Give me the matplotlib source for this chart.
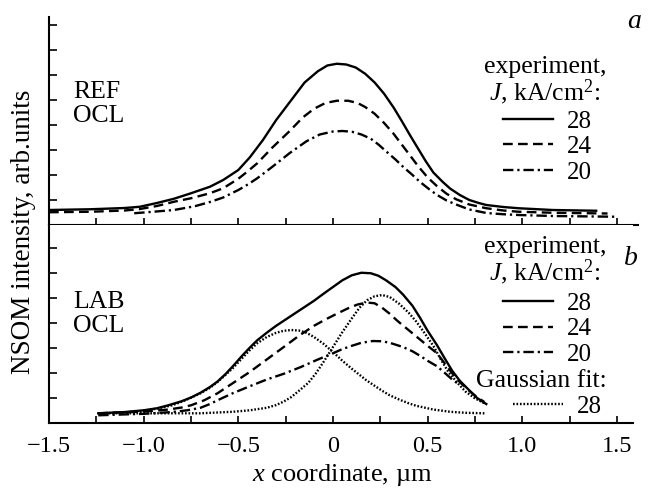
import numpy as np
import matplotlib
matplotlib.use("Agg")
import matplotlib.pyplot as plt
from matplotlib.ticker import MultipleLocator, FixedLocator, FixedFormatter

# ---- data (x in um, intensity in tick units) ----
# panel a: REF OCL, experiment
a28_x = [-1.5, -1.28, -1.1, -1.02, -0.93, -0.84, -0.75, -0.65, -0.58, -0.5, -0.44, -0.37, -0.3,
         -0.22, -0.15, -0.08, -0.03, 0.02, 0.07, 0.12, 0.17, 0.22, 0.27, 0.32, 0.36, 0.41,
         0.45, 0.49, 0.53, 0.58, 0.62, 0.67, 0.72, 0.77, 0.81, 0.9, 0.98, 1.16, 1.39]
a28_y = [0.6, 0.63, 0.68, 0.73, 0.88, 1.05, 1.27, 1.53, 1.8, 2.2, 2.7, 3.4, 4.2,
         5.0, 5.7, 6.15, 6.38, 6.45, 6.42, 6.3, 6.05, 5.7, 5.25, 4.7, 4.2, 3.55,
         3.05, 2.55, 2.1, 1.72, 1.45, 1.2, 1.0, 0.88, 0.8, 0.72, 0.67, 0.6, 0.57]

a24_x = [-1.5, -1.28, -1.1, -1.02, -0.93, -0.84, -0.75, -0.65, -0.58, -0.5, -0.45, -0.4, -0.32,
         -0.23, -0.16, -0.1, -0.04, 0.02, 0.08, 0.13, 0.17, 0.22, 0.27, 0.32, 0.36, 0.41,
         0.45, 0.5, 0.55, 0.6, 0.65, 0.72, 0.81, 0.9, 0.98, 1.16, 1.45]
a24_y = [0.51, 0.53, 0.58, 0.64, 0.76, 0.93, 1.07, 1.27, 1.47, 1.85, 2.15, 2.47, 3.1,
         3.75, 4.3, 4.65, 4.88, 4.97, 4.97, 4.88, 4.72, 4.45, 4.08, 3.65, 3.25, 2.75,
         2.35, 1.9, 1.55, 1.25, 1.03, 0.82, 0.67, 0.58, 0.53, 0.49, 0.46]

a20_x = [-1.05, -0.95, -0.84, -0.73, -0.65, -0.58, -0.5, -0.45, -0.4, -0.32, -0.23, -0.14,
         -0.07, 0.0, 0.05, 0.1, 0.15, 0.2, 0.24, 0.28, 0.33, 0.37, 0.42, 0.46, 0.51, 0.55,
         0.6, 0.65, 0.72, 0.81, 0.9, 0.98, 1.16, 1.5]
a20_y = [0.47, 0.53, 0.6, 0.75, 0.92, 1.1, 1.4, 1.62, 1.87, 2.33, 2.87, 3.35,
         3.62, 3.74, 3.76, 3.73, 3.62, 3.45, 3.22, 2.95, 2.62, 2.33, 2.0, 1.72, 1.42, 1.2,
         0.98, 0.82, 0.62, 0.48, 0.43, 0.4, 0.36, 0.33]

# panel b: LAB OCL, experiment
b28_x = [-1.24, -1.1, -1.0, -0.93, -0.87, -0.8, -0.75, -0.7, -0.65, -0.61, -0.57, -0.53, -0.48,
         -0.44, -0.4, -0.35, -0.3, -0.26, -0.18, -0.1, -0.05, 0.0, 0.05, 0.1, 0.15, 0.2,
         0.24, 0.28, 0.33, 0.37, 0.42, 0.46, 0.5, 0.55, 0.59, 0.63, 0.67, 0.72, 0.76, 0.81]
b28_y = [0.4, 0.45, 0.52, 0.6, 0.72, 0.88, 1.03, 1.22, 1.45, 1.67, 1.95, 2.27, 2.7,
         3.02, 3.32, 3.62, 3.9, 4.1, 4.5, 4.9, 5.18, 5.45, 5.72, 5.92, 6.02, 6.0,
         5.9, 5.72, 5.45, 5.15, 4.7, 4.22, 3.7, 3.12, 2.6, 2.1, 1.7, 1.32, 1.02, 0.77]

b24_x = [-1.24, -1.0, -0.87, -0.8, -0.75, -0.68, -0.61, -0.53, -0.44, -0.35, -0.26, -0.18,
         -0.1, -0.04, 0.02, 0.08, 0.13, 0.18, 0.22, 0.26, 0.3, 0.34, 0.38, 0.42, 0.46, 0.5,
         0.55, 0.59, 0.63, 0.67, 0.72, 0.76, 0.8]
b24_y = [0.4, 0.47, 0.55, 0.63, 0.72, 0.92, 1.2, 1.6, 2.05, 2.55, 3.05, 3.5,
         3.9, 4.15, 4.38, 4.6, 4.75, 4.83, 4.8, 4.62, 4.38, 4.1, 3.85, 3.6, 3.35, 3.1,
         2.8, 2.4, 2.0, 1.65, 1.3, 1.05, 0.85]

b20_x = [-1.24, -1.0, -0.85, -0.77, -0.7, -0.65, -0.61, -0.53, -0.44, -0.35, -0.26, -0.17,
         -0.08, 0.0, 0.05, 0.1, 0.15, 0.21, 0.26, 0.3, 0.37, 0.42, 0.46, 0.5, 0.55, 0.59,
         0.63, 0.67]
b20_y = [0.32, 0.38, 0.45, 0.52, 0.62, 0.77, 0.92, 1.2, 1.48, 1.75, 1.98, 2.25,
         2.55, 2.8, 2.97, 3.1, 3.22, 3.29, 3.28, 3.22, 3.05, 2.88, 2.7, 2.5, 2.28, 2.02,
         1.75, 1.53]

# panel b: two Gaussian components fitted to the 28 kA/cm2 curve
g1_x = [-1.24, -1.1, -1.0, -0.92, -0.85, -0.78, -0.7, -0.65, -0.61, -0.57, -0.53, -0.48,
        -0.44, -0.4, -0.35, -0.3, -0.26, -0.22, -0.18, -0.14, -0.1, -0.05, 0.0, 0.05, 0.1,
        0.175, 0.22, 0.26, 0.3, 0.35, 0.4, 0.44, 0.53, 0.62, 0.7, 0.8]
g1_y = [0.4, 0.43, 0.5, 0.6, 0.72, 0.92, 1.2, 1.42, 1.65, 1.92, 2.2, 2.6,
        2.92, 3.2, 3.45, 3.62, 3.7, 3.73, 3.71, 3.62, 3.45, 3.18, 2.85, 2.5, 2.18,
        1.73, 1.5, 1.3, 1.12, 0.95, 0.8, 0.7, 0.55, 0.46, 0.42, 0.4]

g2_x = [-1.24, -0.7, -0.53, -0.44, -0.35, -0.3, -0.26, -0.22, -0.175, -0.13, -0.09, -0.05,
        0.0, 0.05, 0.1, 0.14, 0.18, 0.22, 0.26, 0.3, 0.35, 0.4, 0.44, 0.48, 0.53, 0.57,
        0.61, 0.66, 0.7, 0.75, 0.8]
g2_y = [0.4, 0.4, 0.46, 0.52, 0.62, 0.73, 0.87, 1.05, 1.33, 1.62, 2.0, 2.45,
        3.05, 3.65, 4.2, 4.62, 4.92, 5.08, 5.13, 5.05, 4.78, 4.42, 4.07, 3.65, 3.1, 2.55,
        2.05, 1.6, 1.27, 1.0, 0.8]

J_labels = ["28", "24", "20"]
x_ticks = [-1.5, -1.0, -0.5, 0.0, 0.5, 1.0, 1.5]
x_ticklabels = ["\u22121.5", "\u22121.0", "\u22120.5", "0", "0.5", "1.0", "1.5"]

plt.rcParams["font.family"] = ["Liberation Serif", "DejaVu Serif"]
plt.rcParams["mathtext.fontset"] = "custom"
plt.rcParams["mathtext.rm"] = "Liberation Serif"
plt.rcParams["mathtext.it"] = "Liberation Serif:italic"
plt.rcParams["lines.scale_dashes"] = False
plt.rcParams["lines.solid_joinstyle"] = "round"
plt.rcParams["lines.dash_joinstyle"] = "round"

W, H = 649, 490


def fx(px):
    return px / W


def fy(py):
    return 1 - py / H


solid = dict(color="black", lw=1.7, ls="-")
dashed = dict(color="black", lw=1.7, ls=(0, (7, 3.8)))
dashdot = dict(color="black", lw=1.7, ls=(0, (7.5, 2.8, 1.6, 2.8)))
dotted = dict(color="black", lw=1.7, ls=(0, (1.2, 1.3)))


def style_axes(ax, ymax, xmax, yticks, labels):
    ax.set_xlim(-1.5, xmax)
    ax.set_ylim(0, ymax)
    for s in ["top", "right"]:
        ax.spines[s].set_visible(False)
    for s in ["left", "bottom"]:
        ax.spines[s].set_linewidth(1.5)
    ax.xaxis.set_major_locator(FixedLocator(x_ticks))
    ax.xaxis.set_minor_locator(MultipleLocator(0.25))
    ax.yaxis.set_major_locator(FixedLocator(yticks))
    ax.set_yticklabels([])
    ax.tick_params(axis="both", which="both", direction="in", width=1.2)
    ax.tick_params(axis="x", which="both", length=5, pad=9.5, labelsize=17.5)
    ax.tick_params(axis="y", which="both", length=6)
    if labels:
        ax.xaxis.set_major_formatter(FixedFormatter(x_ticklabels))
    else:
        ax.set_xticklabels([])


fig = plt.figure(figsize=(W / 100, H / 100), dpi=100)

ax_a = fig.add_axes([fx(49), fy(225), fx(638) - fx(49), fy(17) - fy(225)])
ax_b = fig.add_axes([fx(49), fy(423.3), fx(633) - fx(49), fy(225) - fy(423.3)])

style_axes(ax_a, 8.32, 1.611, list(range(1, 9)), False)
style_axes(ax_b, 7.93, 1.585, list(range(1, 8)), True)

# panel a
la1, = ax_a.plot(a28_x, a28_y, **solid)
la2, = ax_a.plot(a24_x, a24_y, **dashed)
la3, = ax_a.plot(a20_x, a20_y, **dashdot)

# panel b
lb1, = ax_b.plot(b28_x, b28_y, **solid)
lb2, = ax_b.plot(b24_x, b24_y, **dashed)
lb3, = ax_b.plot(b20_x, b20_y, **dashdot)
lg, = ax_b.plot(g1_x, g1_y, **dotted)
ax_b.plot(g2_x, g2_y, **dotted)

leg_kw = dict(frameon=False, fontsize=18, handlelength=2.0, handletextpad=0.55,
              labelspacing=0.13, borderpad=0, borderaxespad=0, loc="upper left",
              bbox_transform=fig.transFigure)

ax_a.legend([la1, la2, la3], J_labels, bbox_to_anchor=(fx(503), fy(110)), **leg_kw)

leg_b = ax_b.legend([lb1, lb2, lb3], J_labels, bbox_to_anchor=(fx(503), fy(292)), **leg_kw)
ax_b.add_artist(leg_b)
ax_b.legend([lg], ["28"], bbox_to_anchor=(fx(513), fy(395)), **leg_kw)

# texts
txt = dict(fontsize=18.5, va="baseline")
fig.text(fx(545), fy(73), "experiment,", ha="center", **txt)
fig.text(fx(545), fy(100), "$J$, kA/cm$^2$:", ha="center", **txt)
fig.text(fx(545), fy(253), "experiment,", ha="center", **txt)
fig.text(fx(545), fy(280), "$J$, kA/cm$^2$:", ha="center", **txt)
fig.text(fx(607), fy(387), "Gaussian fit:", ha="right", **txt)

fig.text(fx(73), fy(98), "REF", ha="left", **txt)
fig.text(fx(73), fy(122), "OCL", ha="left", **txt)
fig.text(fx(73), fy(308), "LAB", ha="left", **txt)
fig.text(fx(73), fy(332), "OCL", ha="left", **txt)

fig.text(fx(627), fy(28), "a", ha="left", va="baseline", fontsize=20, style="italic")
fig.text(fx(624), fy(265), "b", ha="left", va="baseline", fontsize=20, style="italic")

fig.text(fx(24), fy(232), "NSOM intensity, arb.units", rotation=90, ha="center", va="center",
         fontsize=19.5)
fig.text(fx(342), fy(481), "$x$ coordinate, \u00b5m", ha="center", va="baseline", fontsize=19)

fig.savefig("out.png", dpi=100)
